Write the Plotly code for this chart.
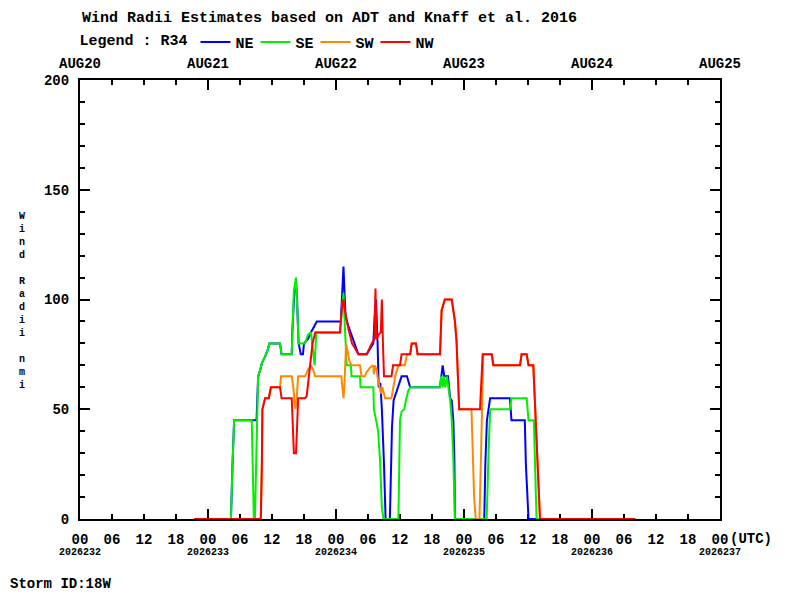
import plotly.graph_objects as go

# hours since 2026-08-20 00Z, radii in nmi (R34)
NE_T = [21.4, 28.3, 28.6, 28.9, 33.1, 33.4, 33.8, 34.1, 34.7, 35.2, 35.5, 37.5, 37.8, 39.7,
        39.8, 40.0, 40.2, 40.5, 40.7, 40.9, 41.0, 41.4, 41.8, 42.0, 42.75, 43.3, 44.0, 44.4,
        48.9, 49.2, 49.4, 49.6, 49.8, 50.3, 50.9, 51.6, 52.2, 53.75, 54.2, 55.0, 55.3, 55.5,
        55.8, 56.0, 56.3, 56.6, 57.0, 57.3, 58.1, 58.3, 58.5, 58.8, 59.5, 60.0, 60.3, 61.3,
        61.9, 67.5, 67.8, 68.0, 68.3, 69.0, 69.4, 69.7, 70.0, 70.2, 70.3, 75.8, 76.0, 76.3,
        76.6, 76.9, 80.6, 80.9, 83.4, 83.6, 84.1, 104.1]
NE_V = [0, 0, 25, 45, 45, 65, 68, 71, 74, 77, 80, 80, 75, 75,
        85, 95, 104, 108, 100, 85, 80, 75, 75, 80, 82, 85, 88, 90,
        90, 105, 115, 103, 92, 88, 84, 80, 75, 75, 77, 80, 95, 100,
        80, 60, 62, 50, 25, 0, 0, 27, 42, 54, 59, 62, 65, 65,
        60, 60, 66, 70, 65, 65, 55, 54, 45, 27, 0, 0, 25, 45,
        50, 55, 55, 45, 45, 25, 0, 0]

SE_T = [21.4, 28.3, 28.6, 28.9, 32.2, 32.4, 32.6, 32.8, 33.1, 33.4, 33.8, 34.1, 34.7, 35.2,
        35.5, 37.5, 37.8, 39.7, 39.9, 40.1, 40.5, 40.7, 40.9, 41.0, 42.2, 42.75, 43.3, 43.7,
        44.0, 44.3, 48.75, 49.1, 49.4, 49.6, 49.8, 50.0, 50.8, 50.9, 52.5, 52.6, 55.0, 55.1,
        55.6, 55.9, 56.25, 56.6, 56.9, 59.7, 59.9, 60.0, 60.3, 60.8, 61.1, 61.5, 61.9, 67.5,
        67.7, 68.0, 68.2, 68.5, 68.8, 69.0, 69.4, 69.7, 70.0, 70.3, 76.25, 76.6, 76.9, 80.6,
        80.9, 83.75, 84.1, 85.1, 85.4, 85.6, 104.1]
SE_V = [0, 0, 25, 45, 45, 20, 0, 0, 40, 65, 68, 71, 74, 77,
        80, 80, 75, 75, 90, 104, 110, 100, 85, 80, 80, 84, 85, 76,
        70, 85, 85, 95, 103, 91, 78, 70, 70, 65, 65, 60, 60, 50,
        44, 40, 27, 5, 0, 0, 30, 45, 49, 50, 54, 58, 60, 60,
        65, 60, 65, 60, 65, 62, 54, 45, 27, 0, 0, 30, 50, 50,
        55, 55, 45, 45, 20, 0, 0]

SW_T = [21.4, 33.9, 34.1, 34.2, 34.5, 34.7, 35.4, 35.8, 37.5, 37.7, 39.7, 40.0, 40.2, 40.4,
        40.6, 40.75, 40.9, 42.2, 42.75, 43.3, 43.7, 44.1, 49.0, 49.2, 49.4, 49.6, 49.9, 50.2,
        50.5, 50.9, 52.5, 52.8, 53.4, 53.75, 54.4, 55.0, 55.1, 55.3, 55.6, 55.9, 56.25, 56.5,
        56.7, 57.2, 58.4, 58.75, 59.1, 59.7, 60.9, 61.3, 61.9, 62.2, 63.0, 63.3, 67.5, 67.8,
        68.4, 69.7, 70.0, 70.3, 70.6, 70.9, 71.1, 73.4, 73.6, 73.9, 74.2, 74.9, 75.2, 75.5,
        75.6, 77.2, 77.5, 82.5, 82.8, 83.75, 84.1, 85.0, 85.3, 85.5, 85.75, 86.25, 104.1]
SW_V = [0, 0, 25, 50, 53, 55, 55, 60, 60, 65, 65, 60, 54, 50,
        54, 60, 65, 65, 68, 70, 68, 65, 65, 60, 55, 62, 80, 76,
        72, 70, 70, 65, 65, 67, 69, 70, 66, 70, 68, 63, 60, 57,
        60, 55, 55, 60, 65, 70, 70, 75, 75, 80, 80, 75, 75, 95,
        100, 100, 95, 90, 81, 66, 50, 50, 30, 10, 0, 0, 30, 55,
        75, 75, 70, 70, 75, 75, 70, 70, 51, 45, 28, 0, 0]

NW_T = [21.4, 33.9, 34.1, 34.2, 34.5, 34.7, 35.4, 35.8, 37.5, 37.8, 39.7, 39.9, 40.0, 40.1,
        40.5, 40.6, 40.75, 40.9, 42.2, 42.5, 42.75, 43.0, 43.3, 43.6, 44.1, 48.75, 49.1, 49.4,
        49.6, 49.8, 50.2, 50.5, 51.0, 51.5, 52.2, 53.75, 54.1, 54.7, 55.2, 55.4, 55.6, 56.0,
        56.4, 56.6, 56.8, 57.0, 58.4, 58.7, 60.0, 60.3, 61.9, 62.2, 63.0, 63.3, 67.5, 67.8,
        68.4, 69.7, 70.0, 70.3, 70.6, 70.9, 71.1, 75.0, 75.2, 75.5, 77.2, 77.5, 82.5, 82.8,
        83.75, 84.1, 85.0, 85.3, 85.5, 85.75, 86.25, 104.1]
NW_V = [0, 0, 25, 50, 53, 55, 55, 60, 60, 55, 55, 45, 34, 30,
        30, 34, 45, 55, 55, 56, 62, 66, 73, 80, 85, 85, 96, 100,
        96, 93, 88, 85, 80, 78, 75, 75, 77, 80, 82, 105, 82, 84,
        85, 100, 80, 65, 65, 70, 70, 75, 75, 80, 80, 75, 75, 95,
        100, 100, 95, 90, 81, 66, 50, 50, 62, 75, 75, 70, 70, 75,
        75, 70, 70, 51, 45, 28, 0, 0]

SERIES = [("NE", NE_T, NE_V, "#0000ff"),
          ("SE", SE_T, SE_V, "#00f000"),
          ("SW", SW_T, SW_V, "#ff8800"),
          ("NW", NW_T, NW_V, "#ff0000")]

HOUR_TICKS = list(range(0, 121, 6))
HOUR_LABELS = ["00", "06", "12", "18"] * 5 + ["00"]
DAY_TICKS = list(range(0, 121, 24))
DAY_LABELS = ["AUG20", "AUG21", "AUG22", "AUG23", "AUG24", "AUG25"]
JULIAN_LABELS = ["2026232", "2026233", "2026234", "2026235", "2026236", "2026237"]
Y_TICKS = [0, 50, 100, 150, 200]

FONT = "Liberation Mono"
LEGEND_FONT = dict(family=FONT, size=15, color="black", weight="bold")

fig = go.Figure()
for name, t, v, color in SERIES:
    assert len(t) == len(v), name
    fig.add_trace(go.Scatter(
        x=t, y=v, mode="lines", name=name,
        line=dict(color=color, width=2),
        xaxis="x2" if name == "NW" else "x",
    ))

annotations = [
    dict(x=d, y=-0.077, xref="x", yref="paper", text=j, showarrow=False,
         font=dict(size=10), yanchor="middle")
    for d, j in zip(DAY_TICKS, JULIAN_LABELS)
]
annotations += [
    dict(x=1.013, y=-0.045, xref="paper", yref="paper", text="(UTC)", showarrow=False,
         xanchor="left", yanchor="middle"),
    dict(x=-0.098, y=0.497, xref="paper", yref="paper",
         text="<br>".join(list("Wind\u00a0Radii\u00a0nmi")),
         showarrow=False, font=dict(size=10), align="center"),
    dict(x=-0.113, y=-0.148, xref="paper", yref="paper", text="Storm ID:18W",
         showarrow=False, xanchor="left", yanchor="middle"),
    dict(x=0, y=1.141, xref="paper", yref="paper",
         text="Wind Radii Estimates based on ADT and Knaff et al. 2016",
         showarrow=False, xanchor="left", yanchor="middle", font=dict(size=15)),
]

# the page body adds an 8px offset, so the frame is laid out 8px up and left
fig.update_layout(
    width=800, height=600,
    margin=dict(l=72, r=88, t=72, b=89),
    paper_bgcolor="white", plot_bgcolor="white",
    font=dict(family=FONT, size=14, color="black", weight="bold"),
    showlegend=True,
    legend=dict(orientation="h", x=-0.004, xanchor="left", y=1.086, yanchor="middle",
                title=dict(text="Legend : R34", side="left", font=LEGEND_FONT),
                font=LEGEND_FONT,
                entrywidth=15, entrywidthmode="pixels", itemwidth=30,
                bgcolor="rgba(0,0,0,0)"),
    xaxis=dict(range=[0, 120], tickmode="array", tickvals=HOUR_TICKS, ticktext=HOUR_LABELS,
               ticks="", showline=False, showgrid=False, zeroline=False,
               ticklabelstandoff=10, automargin=False),
    xaxis2=dict(range=[0, 120], overlaying="x", side="top", anchor="y",
                tickmode="array", tickvals=DAY_TICKS, ticktext=DAY_LABELS,
                ticks="inside", ticklen=10, tickwidth=2, tickcolor="black",
                minor=dict(tickmode="linear", tick0=0, dtick=6, ticks="inside",
                           ticklen=5, tickwidth=2, tickcolor="black"),
                showline=True, linewidth=2, linecolor="black", mirror="ticks",
                showgrid=False, zeroline=False, layer="below traces",
                ticklabelstandoff=4, automargin=False),
    yaxis=dict(range=[0, 200], tickmode="array", tickvals=Y_TICKS,
               ticks="inside", ticklen=10, tickwidth=2, tickcolor="black",
               minor=dict(tickmode="linear", tick0=0, dtick=10, ticks="inside",
                          ticklen=5, tickwidth=2, tickcolor="black"),
               showline=True, linewidth=2, linecolor="black", mirror="ticks",
               showgrid=False, zeroline=False, layer="below traces",
               ticklabelstandoff=6, automargin=False),
    annotations=annotations,
)

fig.write_html("out.html")
